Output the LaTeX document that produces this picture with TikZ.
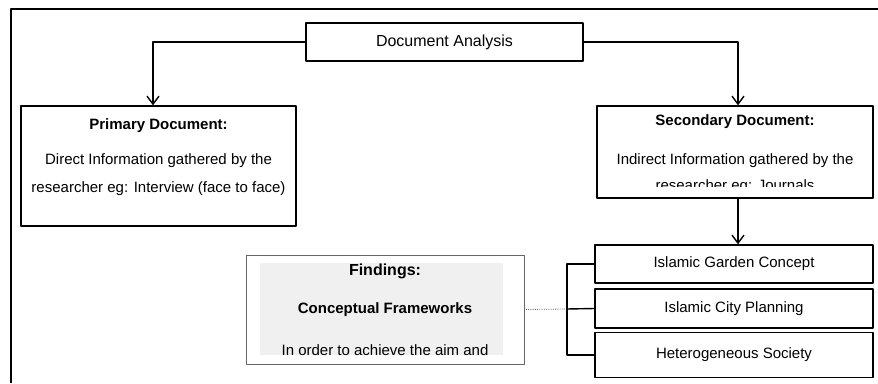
\documentclass[tikz,border=0pt]{standalone}
\usepackage{fontspec}
\setmainfont{Liberation Sans}
\usetikzlibrary{arrows.meta}
\begin{document}
\begin{tikzpicture}[x=1pt,y=-1pt,line join=round,>={Straight Barb[length=8pt,width=12pt]},
  font=\fontsize{15}{17}\selectfont,
  box/.style={draw,line width=1.4pt,inner sep=0pt},
  head/.style={font=\fontsize{15}{17}\selectfont\bfseries},
  link/.style={line width=1.4pt}]
\useasboundingbox (0,0) rectangle (878,383);
% frame
\draw[line width=1.4pt] (11,383) -- (11,9) -- (878,9);
% boxes
\node[box,minimum width=277pt,minimum height=38pt,font=\fontsize{16}{18}\selectfont] (da) at (444.5,42) {Document Analysis};
\node[box,minimum width=275pt,minimum height=120pt] (prim) at (158.5,166) {};
\node[box,minimum width=276pt,minimum height=92pt] (sec) at (735,152) {};
\node[box,minimum width=278pt,minimum height=38pt] (igc) at (734,264) {Islamic Garden Concept};
\node[box,minimum width=278pt,minimum height=39pt] (icp) at (734,308.5) {Islamic City Planning};
\node[box,minimum width=278pt,minimum height=45pt] (hs) at (734,355) {Heterogeneous Society};
\node[draw=black!60,line width=0.8pt,minimum width=278pt,minimum height=109pt] (find) at (385,309.5) {};
\fill[black!6] ([shift={(14,8)}]find.north west) rectangle ([shift={(-21,-9)}]find.south east);
% texts
\node[head] (primT) at (158.5,126) {Primary Document:};
\node (primA) at (158.5,161) {Direct Information gathered by the};
\node (primB) at (158.5,189) {researcher eg: Interview (face to face)};
\node[head] (secT) at (735,122) {Secondary Document:};
\node (secA) at (735,161) {Indirect Information gathered by the};
\begin{scope}
\clip (sec.north west) rectangle (873,186.5);
\node (secB) at (735,187) {researcher eg: Journals};
\end{scope}
\node[head,font=\fontsize{16}{18}\selectfont\bfseries] (findT) at (385,271) {Findings:};
\node[head] (findA) at (385,310) {Conceptual Frameworks};
\node (findB) at (385,350) {In order to achieve the aim and};
% links
\coordinate (jn) at (567,309);
\draw[link,->] (da.west) -| ([xshift=-5.5pt]prim.north);
\draw[link,->] (da.east) -| ([xshift=3pt]sec.north);
\draw[link,->] ([xshift=3pt]sec.south) -- ([xshift=3pt]sec.south |- igc.north);
\draw[link] (igc.west) -| (jn) |- (hs.west);
\draw[link] (jn) -- (icp.west);
\draw[black!60,line width=0.8pt,densely dotted] (find.east) -- (jn);
\end{tikzpicture}
\end{document}
